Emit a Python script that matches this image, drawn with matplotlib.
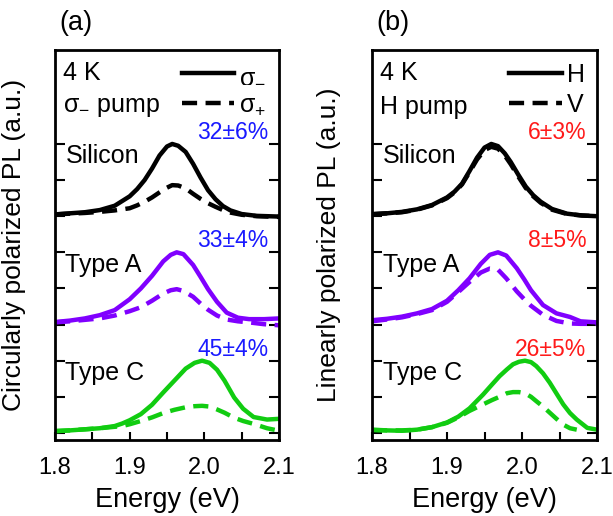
import matplotlib
matplotlib.use("Agg")
import matplotlib.pyplot as plt
from matplotlib.lines import Line2D

plt.rcParams['font.family'] = ['Liberation Sans', 'DejaVu Sans']
plt.rcParams['mathtext.fontset'] = 'custom'
plt.rcParams['mathtext.rm'] = 'Liberation Sans'
plt.rcParams['mathtext.it'] = 'Liberation Sans:italic'
plt.rcParams['mathtext.bf'] = 'Liberation Sans:bold'

# ---------------- data ----------------
# Panel (a): circular polarization, sigma- pump
a_si_E = [1.80, 1.82, 1.84, 1.86, 1.88, 1.90, 1.91, 1.92, 1.93, 1.94, 1.95, 1.957, 1.965,
          1.975, 1.985, 1.995, 2.005, 2.015, 2.025, 2.035, 2.05, 2.07, 2.10]
a_si_solid = [0.05, 0.08, 0.11, 0.17, 0.29, 0.55, 0.75, 1.00, 1.32, 1.68, 1.93, 2.00, 1.95,
              1.78, 1.45, 1.07, 0.72, 0.47, 0.28, 0.16, 0.06, 0.01, -0.01]
a_si_dash = [0.05, 0.07, 0.09, 0.12, 0.16, 0.22, 0.30, 0.40, 0.52, 0.66, 0.79, 0.86, 0.85,
             0.77, 0.62, 0.48, 0.36, 0.26, 0.17, 0.10, 0.04, 0.00, -0.02]

a_A_E = [1.80, 1.82, 1.84, 1.86, 1.88, 1.90, 1.915, 1.93, 1.945, 1.955, 1.963, 1.972, 1.985,
         1.995, 2.005, 2.017, 2.03, 2.045, 2.06, 2.08, 2.10]
a_A_solid = [0.07, 0.11, 0.17, 0.26, 0.40, 0.70, 1.00, 1.35, 1.75, 1.93, 2.00, 1.95, 1.65,
             1.32, 0.98, 0.63, 0.33, 0.19, 0.15, 0.15, 0.17]
a_A_dash = [0.06, 0.09, 0.13, 0.17, 0.25, 0.37, 0.48, 0.66, 0.86, 0.95, 0.98, 0.93, 0.77,
            0.58, 0.41, 0.25, 0.14, 0.09, 0.06, 0.01, -0.02]

a_C_E = [1.80, 1.82, 1.84, 1.86, 1.88, 1.89, 1.90, 1.915, 1.93, 1.945, 1.96, 1.975, 1.987,
         1.997, 2.007, 2.017, 2.027, 2.04, 2.052, 2.066, 2.084, 2.10]
a_C_solid = [0.05, 0.07, 0.10, 0.13, 0.19, 0.26, 0.35, 0.52, 0.78, 1.12, 1.45, 1.78, 1.94,
             2.00, 1.94, 1.75, 1.45, 0.98, 0.67, 0.44, 0.37, 0.39]
a_C_dash = [0.05, 0.07, 0.10, 0.13, 0.17, 0.19, 0.24, 0.33, 0.43, 0.55, 0.64, 0.71, 0.74,
            0.75, 0.73, 0.65, 0.56, 0.42, 0.33, 0.25, 0.13, 0.06]

# Panel (b): linear polarization, H pump
b_si_E = [1.80, 1.82, 1.84, 1.86, 1.88, 1.90, 1.91, 1.92, 1.93, 1.94, 1.95, 1.959, 1.968,
          1.977, 1.985, 1.995, 2.005, 2.015, 2.025, 2.04, 2.06, 2.08, 2.10]
b_si_solid = [0.06, 0.08, 0.12, 0.19, 0.31, 0.52, 0.68, 0.90, 1.25, 1.62, 1.90, 2.00, 1.94,
              1.74, 1.50, 1.15, 0.82, 0.58, 0.40, 0.20, 0.07, 0.02, 0.00]
b_si_dash = [0.05, 0.08, 0.11, 0.18, 0.30, 0.50, 0.66, 0.88, 1.22, 1.57, 1.83, 1.92, 1.87,
             1.68, 1.44, 1.10, 0.78, 0.55, 0.37, 0.18, 0.06, 0.02, 0.00]

b_A_E = [1.80, 1.82, 1.84, 1.86, 1.88, 1.90, 1.915, 1.93, 1.945, 1.957, 1.968, 1.979, 1.993,
         2.003, 2.012, 2.028, 2.046, 2.064, 2.078, 2.10]
b_A_solid = [0.12, 0.16, 0.22, 0.31, 0.43, 0.66, 0.95, 1.28, 1.68, 1.93, 2.00, 1.91, 1.56,
             1.25, 0.95, 0.54, 0.31, 0.21, 0.09, 0.06]
b_A_dash = [0.09, 0.14, 0.20, 0.29, 0.40, 0.63, 0.90, 1.18, 1.44, 1.55, 1.52, 1.28, 0.92,
            0.70, 0.52, 0.27, 0.10, 0.03, 0.02, 0.02]

b_C_E = [1.80, 1.82, 1.84, 1.86, 1.88, 1.90, 1.915, 1.93, 1.948, 1.96, 1.97, 1.98, 1.988,
         1.996, 2.004, 2.012, 2.019, 2.028, 2.037, 2.046, 2.055, 2.064, 2.073, 2.087, 2.10]
b_C_solid = [0.09, 0.07, 0.06, 0.09, 0.16, 0.29, 0.45, 0.68, 1.06, 1.34, 1.57, 1.76, 1.90,
             1.97, 2.00, 1.96, 1.85, 1.65, 1.39, 1.09, 0.79, 0.55, 0.37, 0.14, 0.09]
b_C_dash_E = [1.80, 1.82, 1.84, 1.86, 1.88, 1.90, 1.915, 1.93, 1.948, 1.96, 1.97, 1.98, 1.988,
              1.996, 2.004, 2.012, 2.019, 2.028, 2.037, 2.046, 2.055, 2.064, 2.073]
b_C_dash = [0.08, 0.07, 0.07, 0.09, 0.16, 0.28, 0.43, 0.61, 0.79, 0.91, 1.00, 1.10, 1.13,
            1.13, 1.10, 1.00, 0.88, 0.73, 0.56, 0.39, 0.23, 0.13, 0.09]

samples = ["Silicon", "Type A", "Type C"]
a_pol = ["32\u00b16%", "33\u00b14%", "45\u00b14%"]
b_pol = ["6\u00b13%", "8\u00b15%", "26\u00b15%"]
xticks = [1.8, 1.9, 2.0, 2.1]
xticklabels = ["1.8", "1.9", "2.0", "2.1"]

# ---------------- styling ----------------
offsets = [6, 3, 0]
colors = ["#000000", "#8000ff", "#11cc11"]
LW = 3.2
DASH = (3.4, 1.9)

fig = plt.figure(figsize=(6.13, 5.16), dpi=100)
axa = fig.add_axes([0.0897, 0.147, 0.3654, 0.756])
axb = fig.add_axes([0.6069, 0.147, 0.3670, 0.756])

panels = [
    (axa, [(a_si_E, a_si_solid, a_si_E, a_si_dash),
           (a_A_E, a_A_solid, a_A_E, a_A_dash),
           (a_C_E, a_C_solid, a_C_E, a_C_dash)],
     a_pol, "#1a1aff", "Circularly polarized PL (a.u.)", "(a)",
     r"$\mathregular{\sigma_{-}}$ pump",
     [r"$\mathregular{\sigma_{-}}$", r"$\mathregular{\sigma_{+}}$"], -0.128),
    (axb, [(b_si_E, b_si_solid, b_si_E, b_si_dash),
           (b_A_E, b_A_solid, b_A_E, b_A_dash),
           (b_C_E, b_C_solid, b_C_dash_E, b_C_dash)],
     b_pol, "#ff1a1a", "Linearly polarized PL (a.u.)", "(b)",
     "H pump", ["H", "V"], -0.14),
]

for ax, curves, pols, pcol, ylab, tag, pump, leglabels, ylx in panels:
    for (Es, ys, Ed, yd), off, col, name, pol in zip(curves, offsets, colors, samples, pols):
        ax.plot(Es, [v + off for v in ys], color=col, lw=LW, solid_capstyle='round')
        ax.plot(Ed, [v + off for v in yd], color=col, lw=LW, ls=(0, DASH))
        ax.text(1.814, off + 1.66, name, fontsize=18, ha='left', va='center')
        ax.text(2.086, off + 2.32, pol, fontsize=16.5, ha='right', va='center', color=pcol)
    ax.set_xlim(1.8, 2.1)
    ax.set_ylim(-0.2, 10.6)
    ax.set_xticks(xticks)
    ax.set_xticklabels(xticklabels)
    ax.set_xticks([1.85, 1.95, 2.05], minor=True)
    ax.set_yticks(range(0, 9))
    ax.set_yticklabels([])
    ax.tick_params(axis='x', which='both', direction='in', length=6, width=1.5,
                   labelsize=17, pad=12, top=False)
    ax.tick_params(axis='y', which='both', direction='in', length=7, width=1.5,
                   left=True, right=True)
    for sp in ax.spines.values():
        sp.set_linewidth(2)
    ax.set_xlabel("Energy (eV)", fontsize=19.5, labelpad=6)
    ax.set_ylabel(ylab, fontsize=19)
    ax.yaxis.set_label_coords(ylx, 0.5)
    ax.text(0.035, 0.94, "4 K", transform=ax.transAxes, fontsize=18, ha='left', va='center')
    ax.text(0.035, 0.855, pump, transform=ax.transAxes, fontsize=18, ha='left', va='center')
    ax.text(0.02, 1.07, tag, transform=ax.transAxes, fontsize=19.5, ha='left', va='center')
    handles = [Line2D([], [], color='k', lw=LW),
               Line2D([], [], color='k', lw=LW, ls=(0, DASH))]
    ax.legend(handles, leglabels, loc='upper right', frameon=False, fontsize=18,
              handlelength=2.1, handletextpad=0.2, labelspacing=0.25,
              borderaxespad=0.3, borderpad=0.2)

fig.savefig("out.png", dpi=100)
